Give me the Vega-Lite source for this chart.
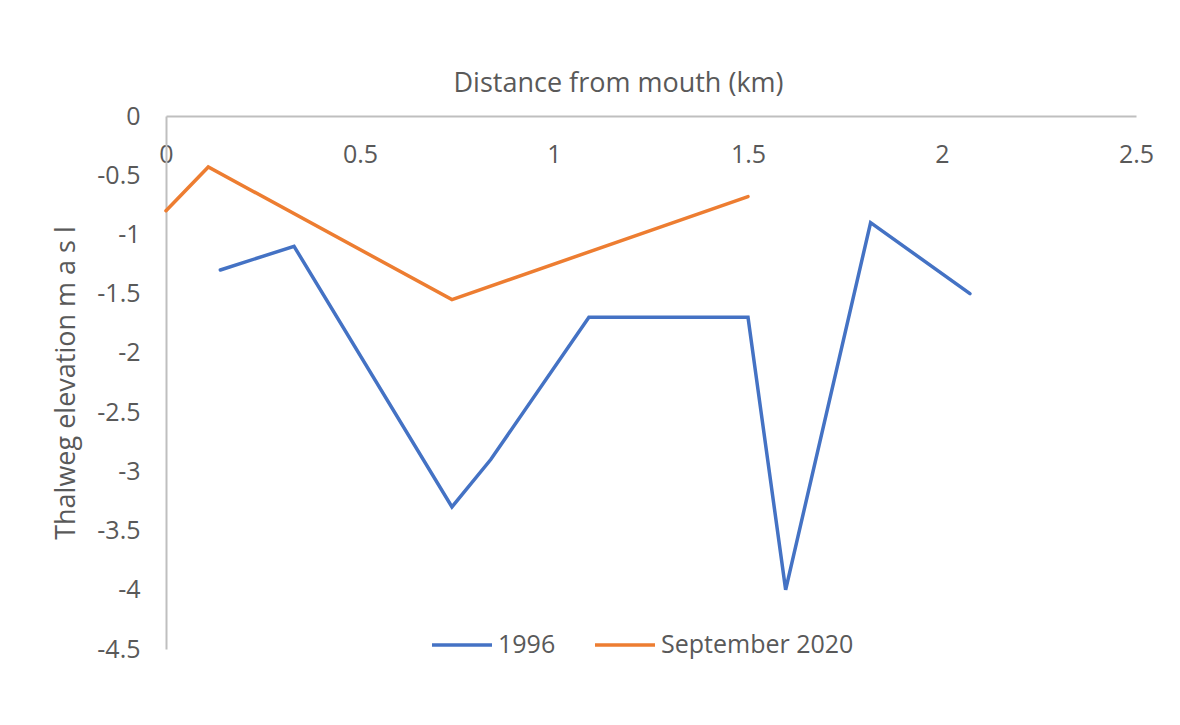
{
  "$schema": "https://vega.github.io/schema/vega-lite/v6.json",
  "width": 970,
  "height": 533,
  "autosize": "none",
  "padding": {"left": 166, "top": 116, "right": 44, "bottom": 76},
  "background": "#ffffff",
  "config": {
    "view": {"stroke": null},
    "font": "Open Sans"
  },
  "data": {
    "values": [
      {"series": "1996", "order": 1, "distance": 0.14, "elevation": -1.3},
      {"series": "1996", "order": 2, "distance": 0.33, "elevation": -1.1},
      {"series": "1996", "order": 3, "distance": 0.737, "elevation": -3.3},
      {"series": "1996", "order": 4, "distance": 0.837, "elevation": -2.9},
      {"series": "1996", "order": 5, "distance": 1.09, "elevation": -1.7},
      {"series": "1996", "order": 6, "distance": 1.5, "elevation": -1.7},
      {"series": "1996", "order": 7, "distance": 1.597, "elevation": -4.0},
      {"series": "1996", "order": 8, "distance": 1.816, "elevation": -0.9},
      {"series": "1996", "order": 9, "distance": 2.072, "elevation": -1.5},
      {"series": "September 2020", "order": 1, "distance": 0.0, "elevation": -0.8},
      {"series": "September 2020", "order": 2, "distance": 0.109, "elevation": -0.43},
      {"series": "September 2020", "order": 3, "distance": 0.737, "elevation": -1.55},
      {"series": "September 2020", "order": 4, "distance": 1.5, "elevation": -0.68}
    ]
  },
  "mark": {"type": "line", "strokeWidth": 3.5, "strokeCap": "round", "strokeJoin": "miter"},
  "encoding": {
    "x": {
      "field": "distance",
      "type": "quantitative",
      "scale": {"domain": [0, 2.5], "nice": false, "zero": false},
      "axis": {
        "orient": "top",
        "title": "Distance from mouth (km)",
        "titleFont": "Open Sans",
        "titleFontSize": 27,
        "titleFontWeight": "normal",
        "titleColor": "#595959",
        "titleBaseline": "middle",
        "titleAlign": "center",
        "titleX": 452,
        "titleY": -33,
        "values": [0, 0.5, 1, 1.5, 2, 2.5],
        "labelExpr": "'' + datum.value",
        "labelFlush": false,
        "labelBaseline": "middle",
        "labelPadding": -38,
        "labelFontSize": 25,
        "labelColor": "#595959",
        "ticks": false,
        "grid": false,
        "domainColor": "#BFBFBF",
        "domainWidth": 2
      }
    },
    "y": {
      "field": "elevation",
      "type": "quantitative",
      "scale": {"domain": [-4.5, 0], "nice": false, "zero": false},
      "axis": {
        "title": "Thalweg elevation m a s l",
        "titleFont": "Open Sans",
        "titleFontSize": 27,
        "titleFontWeight": "normal",
        "titleColor": "#595959",
        "titlePadding": 16,
        "values": [0, -0.5, -1, -1.5, -2, -2.5, -3, -3.5, -4, -4.5],
        "labelExpr": "'' + datum.value",
        "labelFlush": false,
        "labelPadding": 26,
        "labelFontSize": 25,
        "labelColor": "#595959",
        "ticks": false,
        "grid": false,
        "domainColor": "#BFBFBF",
        "domainWidth": 2
      }
    },
    "color": {
      "field": "series",
      "type": "nominal",
      "scale": {"domain": ["1996", "September 2020"], "range": ["#4472C4", "#ED7D31"]},
      "legend": {
        "title": null,
        "orient": "none",
        "direction": "horizontal",
        "legendX": 264,
        "legendY": 497,
        "symbolType": "stroke",
        "symbolSize": 3600,
        "symbolStrokeWidth": 3.5,
        "labelFontSize": 25,
        "labelColor": "#595959",
        "labelOffset": 4,
        "labelLimit": 400,
        "columnPadding": 32
      }
    },
    "order": {"field": "order", "type": "quantitative"}
  }
}
